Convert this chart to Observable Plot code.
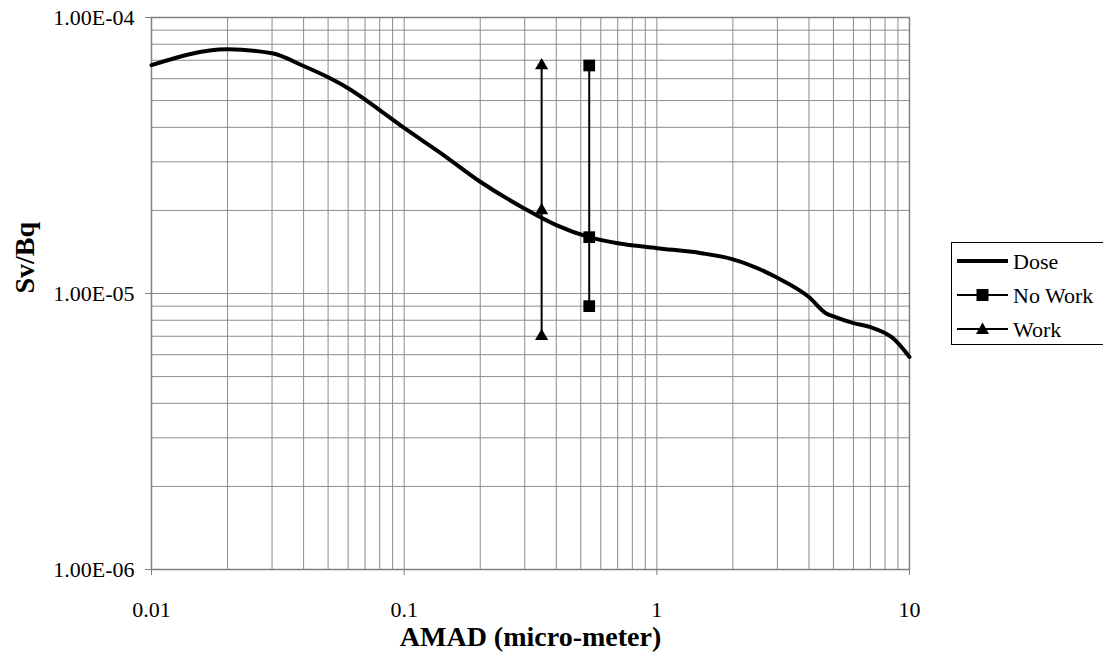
<!DOCTYPE html>
<html>
<head>
<meta charset="utf-8">
<script src="https://cdn.jsdelivr.net/npm/d3@7"></script>
<script src="https://cdn.jsdelivr.net/npm/@observablehq/plot@0.6"></script>
<style>
  html, body { margin: 0; padding: 0; background: #fff; overflow: hidden; }
  #wrap { position: relative; width: 1103px; height: 663px; }
  #legend { position: absolute; left: 951px; top: 242px; }
</style>
</head>
<body>
<div id="wrap"><div id="chart"></div><div id="legend"></div></div>
<script>
// ---- data ----
const doseX = [0.01, 0.02, 0.03, 0.04, 0.05, 0.06, 0.08, 0.1, 0.14, 0.2, 0.3, 0.4, 0.54, 0.7, 1, 1.5, 2, 3, 4, 4.7, 5, 6, 7, 8, 8.5, 10];
const doseY = [6.72e-5, 7.67e-5, 7.42e-5, 6.67e-5, 6.07e-5, 5.54e-5, 4.62e-5, 3.98e-5, 3.22e-5, 2.54e-5, 2.03e-5, 1.77e-5, 1.60e-5, 1.52e-5, 1.46e-5, 1.40e-5, 1.33e-5, 1.14e-5, 9.71e-6, 8.45e-6, 8.26e-6, 7.81e-6, 7.56e-6, 7.19e-6, 6.95e-6, 5.89e-6];
const noWorkX = [0.54, 0.54, 0.54];
const noWorkY = [9.0e-6, 1.6e-5, 6.7e-5];
const workX = [0.35, 0.35, 0.35];
const workY = [7.0e-6, 2.0e-5, 6.7e-5];
const xTicks = [0.01, 0.1, 1, 10];
const xTickLabels = ["0.01", "0.1", "1", "10"];
const yTicks = [1e-6, 1e-5, 1e-4];
const yTickLabels = ["1.00E-06", "1.00E-05", "1.00E-04"];
const seriesNames = ["Dose", "No Work", "Work"];
const xTitle = "AMAD (micro-meter)";
const yTitle = "Sv/Bq";

const dose = doseX.map((x, i) => ({x, y: doseY[i]}));
const noWork = noWorkX.map((x, i) => ({x, y: noWorkY[i]}));
const work = workX.map((x, i) => ({x, y: workY[i]}));

// grid positions (1..9 per decade)
const xGrid = [], yGrid = [];
for (let e = -2; e <= 0; e++) for (let m = 1; m <= 9; m++) xGrid.push(m * Math.pow(10, e));
xGrid.push(10);
for (let e = -6; e <= -5; e++) for (let m = 1; m <= 9; m++) yGrid.push(m * Math.pow(10, e));
yGrid.push(1e-4);

const gridColor = "#8c8c8c";
const FONT = "'Liberation Serif', 'Times New Roman', serif";

const chart = Plot.plot({
  width: 1103,
  height: 663,
  marginLeft: 151,
  marginRight: 194,
  marginTop: 17,
  marginBottom: 94,
  style: {fontFamily: FONT, fontSize: "22px", color: "black", background: "white", overflow: "visible"},
  x: {type: "log", domain: [0.01, 10], label: null},
  y: {type: "log", domain: [1e-6, 1e-4], label: null},
  marks: [
    Plot.ruleX(xGrid, {stroke: gridColor, strokeWidth: 1}),
    Plot.ruleY(yGrid, {stroke: gridColor, strokeWidth: 1}),
    Plot.frame({stroke: "#808080", strokeWidth: 1.5}),
    Plot.axisX({ticks: xTicks, tickFormat: d => xTickLabels[xTicks.indexOf(d)], tickSize: 6, tickPadding: 26, stroke: "#808080", fill: "black", label: null, fontSize: 22}),
    Plot.axisY({ticks: yTicks, tickFormat: d => yTickLabels[yTicks.findIndex(t => Math.abs(Math.log10(t) - Math.log10(d)) < 1e-6)], tickSize: 6, tickPadding: 11, stroke: "#808080", fill: "black", label: null, fontSize: 22}),
    Plot.line(dose, {x: "x", y: "y", stroke: "black", strokeWidth: 4, curve: "monotone-x"}),
    Plot.line(work, {x: "x", y: "y", stroke: "black", strokeWidth: 2}),
    Plot.line(noWork, {x: "x", y: "y", stroke: "black", strokeWidth: 2}),
    Plot.dot(work, {x: "x", y: "y", symbol: "triangle", fill: "black", stroke: "none", r: 4.9}),
    Plot.dot(noWork, {x: "x", y: "y", symbol: "square", fill: "black", stroke: "none", r: 6.6}),
    Plot.text([xTitle], {frameAnchor: "bottom", dy: 76, text: d => d, fontSize: 28, fontWeight: "bold", fill: "black"}),
    Plot.text([yTitle], {frameAnchor: "left", dx: -126, rotate: -90, text: d => d, fontSize: 28, fontWeight: "bold", fill: "black"})
  ]
});
document.getElementById("chart").appendChild(chart);

// ---- legend ----
const lw = 200, lh = 102;
const leg = d3.select("#legend").append("svg")
  .attr("width", lw).attr("height", lh + 2)
  .style("display", "block").style("overflow", "visible");
leg.append("rect").attr("x", 0.5).attr("y", 0.5).attr("width", lw).attr("height", lh)
  .attr("fill", "white").attr("stroke", "black").attr("stroke-width", 1);
const rowsY = [19, 53, 87];
seriesNames.forEach((name, i) => {
  const g = leg.append("g").attr("transform", `translate(0,${rowsY[i]})`);
  g.append("line").attr("x1", 6).attr("x2", 57).attr("y1", 0).attr("y2", 0)
    .attr("stroke", "black").attr("stroke-width", i === 0 ? 4 : 2);
  if (i === 1) g.append("rect").attr("x", 25.5).attr("y", -6).attr("width", 12).attr("height", 12).attr("fill", "black");
  if (i === 2) g.append("path").attr("d", "M31.5,-6.5L38,5L25,5Z").attr("fill", "black");
  g.append("text").attr("x", 62).attr("y", 0).attr("dy", "0.35em")
    .attr("font-family", FONT).attr("font-size", 22).attr("fill", "black").text(name);
});
</script>
</body>
</html>
